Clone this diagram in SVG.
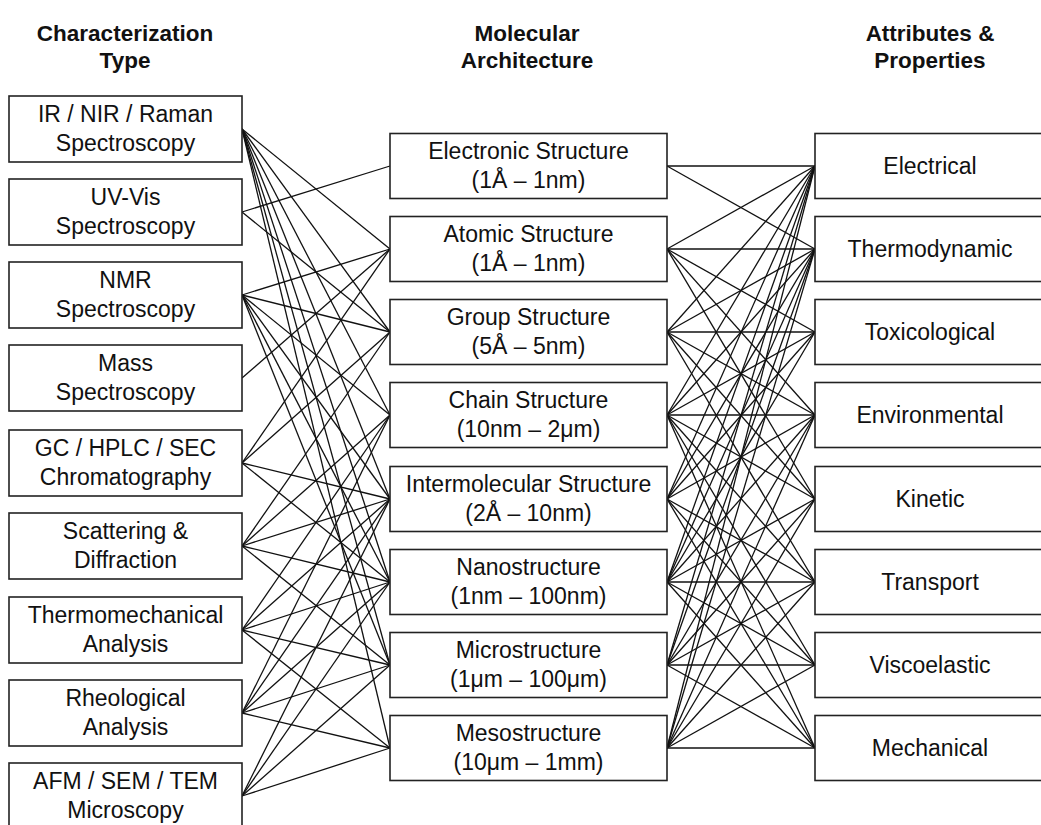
<svg xmlns="http://www.w3.org/2000/svg" width="1041" height="825" viewBox="0 0 1041 825">
<style>
.box{fill:#fff;stroke:#222;stroke-width:1.6}
.lbl{font-family:"Liberation Sans",Arial,sans-serif;font-size:23px;fill:#111;text-anchor:middle}
.hdr{font-family:"Liberation Sans",Arial,sans-serif;font-size:22.5px;font-weight:bold;fill:#111;text-anchor:middle}
.links line{stroke:#111;stroke-width:1.3}
</style>
<rect width="1041" height="825" fill="#fff"/>
<g id="headers">
<text class="hdr" x="125" y="41">Characterization</text>
<text class="hdr" x="125" y="68">Type</text>
<text class="hdr" x="527" y="41">Molecular</text>
<text class="hdr" x="527" y="68">Architecture</text>
<text class="hdr" x="930" y="41">Attributes &amp;</text>
<text class="hdr" x="930" y="68">Properties</text>
</g>
<g class="links" id="connectors">
<!-- characterization type -> molecular architecture -->
<line x1="242" y1="129" x2="390" y2="249"/>
<line x1="242" y1="129" x2="390" y2="332"/>
<line x1="242" y1="129" x2="390" y2="415"/>
<line x1="242" y1="129" x2="390" y2="499"/>
<line x1="242" y1="129" x2="390" y2="582"/>
<line x1="242" y1="129" x2="390" y2="665"/>
<line x1="242" y1="129" x2="390" y2="748"/>
<line x1="242" y1="212" x2="390" y2="166"/>
<line x1="242" y1="212" x2="390" y2="332"/>
<line x1="242" y1="295" x2="390" y2="249"/>
<line x1="242" y1="295" x2="390" y2="332"/>
<line x1="242" y1="295" x2="390" y2="415"/>
<line x1="242" y1="295" x2="390" y2="499"/>
<line x1="242" y1="295" x2="390" y2="582"/>
<line x1="242" y1="295" x2="390" y2="665"/>
<line x1="242" y1="378" x2="390" y2="249"/>
<line x1="242" y1="463" x2="390" y2="249"/>
<line x1="242" y1="463" x2="390" y2="332"/>
<line x1="242" y1="463" x2="390" y2="499"/>
<line x1="242" y1="463" x2="390" y2="582"/>
<line x1="242" y1="546" x2="390" y2="332"/>
<line x1="242" y1="546" x2="390" y2="415"/>
<line x1="242" y1="546" x2="390" y2="499"/>
<line x1="242" y1="546" x2="390" y2="582"/>
<line x1="242" y1="546" x2="390" y2="665"/>
<line x1="242" y1="630" x2="390" y2="415"/>
<line x1="242" y1="630" x2="390" y2="499"/>
<line x1="242" y1="630" x2="390" y2="582"/>
<line x1="242" y1="630" x2="390" y2="665"/>
<line x1="242" y1="630" x2="390" y2="748"/>
<line x1="242" y1="713" x2="390" y2="415"/>
<line x1="242" y1="713" x2="390" y2="499"/>
<line x1="242" y1="713" x2="390" y2="582"/>
<line x1="242" y1="713" x2="390" y2="665"/>
<line x1="242" y1="713" x2="390" y2="748"/>
<line x1="242" y1="796" x2="390" y2="499"/>
<line x1="242" y1="796" x2="390" y2="582"/>
<line x1="242" y1="796" x2="390" y2="665"/>
<line x1="242" y1="796" x2="390" y2="748"/>
<!-- molecular architecture -> attributes & properties -->
<line x1="667" y1="166" x2="815" y2="166"/>
<line x1="667" y1="166" x2="815" y2="249"/>
<line x1="667" y1="249" x2="815" y2="166"/>
<line x1="667" y1="249" x2="815" y2="249"/>
<line x1="667" y1="249" x2="815" y2="332"/>
<line x1="667" y1="249" x2="815" y2="415"/>
<line x1="667" y1="249" x2="815" y2="499"/>
<line x1="667" y1="332" x2="815" y2="166"/>
<line x1="667" y1="332" x2="815" y2="249"/>
<line x1="667" y1="332" x2="815" y2="332"/>
<line x1="667" y1="332" x2="815" y2="415"/>
<line x1="667" y1="332" x2="815" y2="499"/>
<line x1="667" y1="332" x2="815" y2="582"/>
<line x1="667" y1="415" x2="815" y2="166"/>
<line x1="667" y1="415" x2="815" y2="249"/>
<line x1="667" y1="415" x2="815" y2="332"/>
<line x1="667" y1="415" x2="815" y2="415"/>
<line x1="667" y1="415" x2="815" y2="499"/>
<line x1="667" y1="415" x2="815" y2="582"/>
<line x1="667" y1="415" x2="815" y2="665"/>
<line x1="667" y1="415" x2="815" y2="748"/>
<line x1="667" y1="499" x2="815" y2="166"/>
<line x1="667" y1="499" x2="815" y2="249"/>
<line x1="667" y1="499" x2="815" y2="332"/>
<line x1="667" y1="499" x2="815" y2="415"/>
<line x1="667" y1="499" x2="815" y2="582"/>
<line x1="667" y1="499" x2="815" y2="665"/>
<line x1="667" y1="499" x2="815" y2="748"/>
<line x1="667" y1="582" x2="815" y2="166"/>
<line x1="667" y1="582" x2="815" y2="249"/>
<line x1="667" y1="582" x2="815" y2="332"/>
<line x1="667" y1="582" x2="815" y2="415"/>
<line x1="667" y1="582" x2="815" y2="499"/>
<line x1="667" y1="582" x2="815" y2="582"/>
<line x1="667" y1="582" x2="815" y2="665"/>
<line x1="667" y1="582" x2="815" y2="748"/>
<line x1="667" y1="665" x2="815" y2="166"/>
<line x1="667" y1="665" x2="815" y2="249"/>
<line x1="667" y1="665" x2="815" y2="415"/>
<line x1="667" y1="665" x2="815" y2="499"/>
<line x1="667" y1="665" x2="815" y2="582"/>
<line x1="667" y1="665" x2="815" y2="665"/>
<line x1="667" y1="665" x2="815" y2="748"/>
<line x1="667" y1="748" x2="815" y2="166"/>
<line x1="667" y1="748" x2="815" y2="249"/>
<line x1="667" y1="748" x2="815" y2="415"/>
<line x1="667" y1="748" x2="815" y2="499"/>
<line x1="667" y1="748" x2="815" y2="582"/>
<line x1="667" y1="748" x2="815" y2="665"/>
<line x1="667" y1="748" x2="815" y2="748"/>
</g>
<g id="n-ir"><rect class="box" x="9" y="96" width="233" height="66"/><text class="lbl" x="125.5" y="122">IR / NIR / Raman</text><text class="lbl" x="125.5" y="151">Spectroscopy</text></g>
<g id="n-uvvis"><rect class="box" x="9" y="179" width="233" height="66"/><text class="lbl" x="125.5" y="205">UV-Vis</text><text class="lbl" x="125.5" y="234">Spectroscopy</text></g>
<g id="n-nmr"><rect class="box" x="9" y="262" width="233" height="66"/><text class="lbl" x="125.5" y="288">NMR</text><text class="lbl" x="125.5" y="317">Spectroscopy</text></g>
<g id="n-mass"><rect class="box" x="9" y="345" width="233" height="66"/><text class="lbl" x="125.5" y="371">Mass</text><text class="lbl" x="125.5" y="400">Spectroscopy</text></g>
<g id="n-gc"><rect class="box" x="9" y="430" width="233" height="66"/><text class="lbl" x="125.5" y="456">GC / HPLC / SEC</text><text class="lbl" x="125.5" y="485">Chromatography</text></g>
<g id="n-scatter"><rect class="box" x="9" y="513" width="233" height="66"/><text class="lbl" x="125.5" y="539">Scattering &amp;</text><text class="lbl" x="125.5" y="568">Diffraction</text></g>
<g id="n-thermo"><rect class="box" x="9" y="597" width="233" height="66"/><text class="lbl" x="125.5" y="623">Thermomechanical</text><text class="lbl" x="125.5" y="652">Analysis</text></g>
<g id="n-rheo"><rect class="box" x="9" y="680" width="233" height="66"/><text class="lbl" x="125.5" y="706">Rheological</text><text class="lbl" x="125.5" y="735">Analysis</text></g>
<g id="n-afm"><rect class="box" x="9" y="763" width="233" height="70"/><text class="lbl" x="125.5" y="789">AFM / SEM / TEM</text><text class="lbl" x="125.5" y="818">Microscopy</text></g>
<g id="n-electronic"><rect class="box" x="390" y="133.5" width="277" height="65"/><text class="lbl" x="528.5" y="159">Electronic Structure</text><text class="lbl" x="528.5" y="188">(1Å – 1nm)</text></g>
<g id="n-atomic"><rect class="box" x="390" y="216.5" width="277" height="65"/><text class="lbl" x="528.5" y="242">Atomic Structure</text><text class="lbl" x="528.5" y="271">(1Å – 1nm)</text></g>
<g id="n-group"><rect class="box" x="390" y="299.5" width="277" height="65"/><text class="lbl" x="528.5" y="325">Group Structure</text><text class="lbl" x="528.5" y="354">(5Å – 5nm)</text></g>
<g id="n-chain"><rect class="box" x="390" y="382.5" width="277" height="65"/><text class="lbl" x="528.5" y="408">Chain Structure</text><text class="lbl" x="528.5" y="437">(10nm – 2μm)</text></g>
<g id="n-inter"><rect class="box" x="390" y="466.5" width="277" height="65"/><text class="lbl" x="528.5" y="492">Intermolecular Structure</text><text class="lbl" x="528.5" y="521">(2Å – 10nm)</text></g>
<g id="n-nano"><rect class="box" x="390" y="549.5" width="277" height="65"/><text class="lbl" x="528.5" y="575">Nanostructure</text><text class="lbl" x="528.5" y="604">(1nm – 100nm)</text></g>
<g id="n-micro"><rect class="box" x="390" y="632.5" width="277" height="65"/><text class="lbl" x="528.5" y="658">Microstructure</text><text class="lbl" x="528.5" y="687">(1μm – 100μm)</text></g>
<g id="n-meso"><rect class="box" x="390" y="715.5" width="277" height="65"/><text class="lbl" x="528.5" y="741">Mesostructure</text><text class="lbl" x="528.5" y="770">(10μm – 1mm)</text></g>
<g id="n-electrical"><rect class="box" x="815" y="133.5" width="232" height="65"/><text class="lbl" x="930" y="174">Electrical</text></g>
<g id="n-thermodynamic"><rect class="box" x="815" y="216.5" width="232" height="65"/><text class="lbl" x="930" y="257">Thermodynamic</text></g>
<g id="n-toxicological"><rect class="box" x="815" y="299.5" width="232" height="65"/><text class="lbl" x="930" y="340">Toxicological</text></g>
<g id="n-environmental"><rect class="box" x="815" y="382.5" width="232" height="65"/><text class="lbl" x="930" y="423">Environmental</text></g>
<g id="n-kinetic"><rect class="box" x="815" y="466.5" width="232" height="65"/><text class="lbl" x="930" y="507">Kinetic</text></g>
<g id="n-transport"><rect class="box" x="815" y="549.5" width="232" height="65"/><text class="lbl" x="930" y="590">Transport</text></g>
<g id="n-viscoelastic"><rect class="box" x="815" y="632.5" width="232" height="65"/><text class="lbl" x="930" y="673">Viscoelastic</text></g>
<g id="n-mechanical"><rect class="box" x="815" y="715.5" width="232" height="65"/><text class="lbl" x="930" y="756">Mechanical</text></g>
</svg>
